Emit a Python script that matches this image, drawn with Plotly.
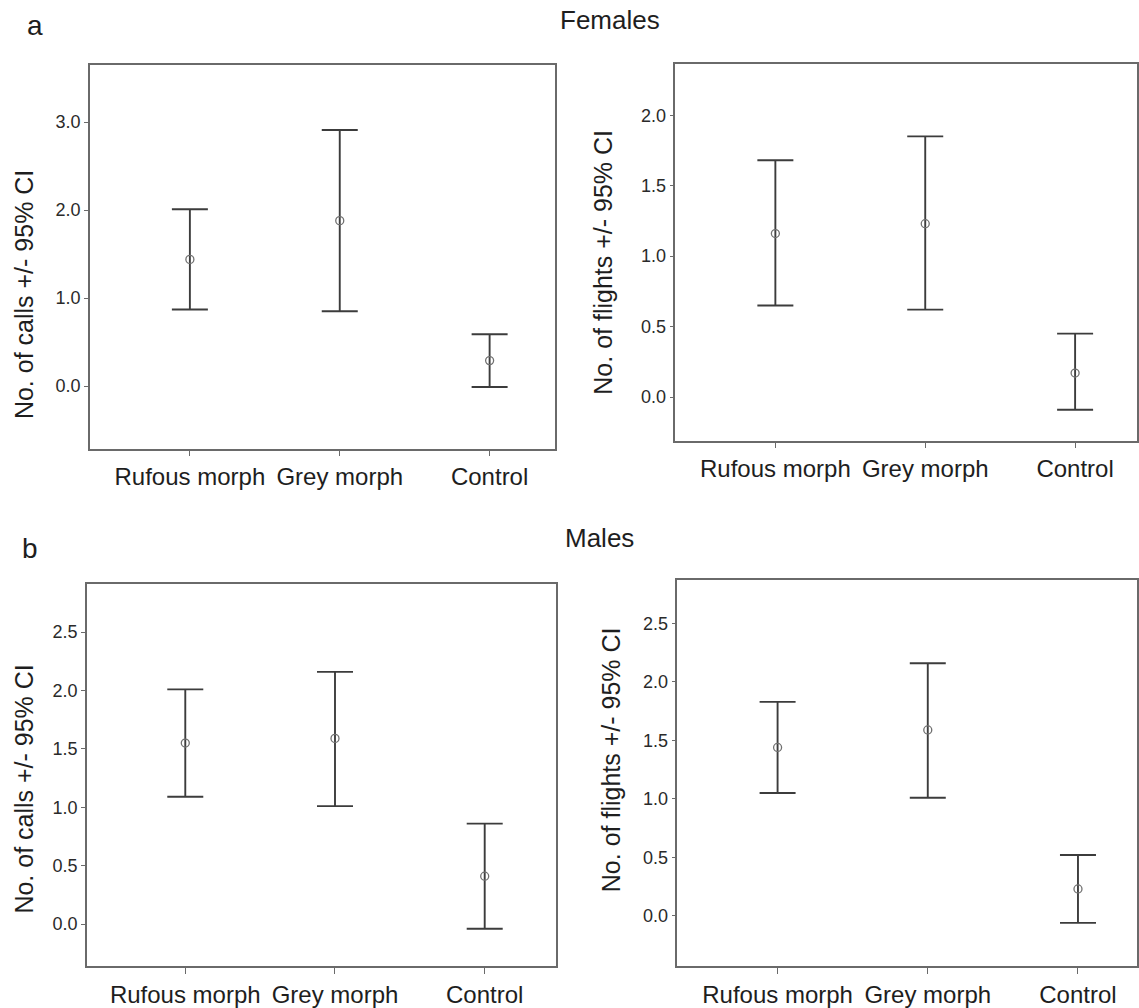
import plotly.graph_objects as go

# ---------------- data ----------------
categories = ["Rufous morph", "Grey morph", "Control"]

# Females - calls
fem_calls_mean = [1.44, 1.88, 0.29]
fem_calls_low = [0.87, 0.85, -0.01]
fem_calls_high = [2.01, 2.91, 0.59]

# Females - flights
fem_flights_mean = [1.16, 1.23, 0.17]
fem_flights_low = [0.65, 0.62, -0.09]
fem_flights_high = [1.68, 1.85, 0.45]

# Males - calls
male_calls_mean = [1.55, 1.59, 0.41]
male_calls_low = [1.09, 1.01, -0.04]
male_calls_high = [2.01, 2.16, 0.86]

# Males - flights
male_flights_mean = [1.44, 1.59, 0.23]
male_flights_low = [1.05, 1.01, -0.06]
male_flights_high = [1.83, 2.16, 0.52]

ticks_fem_calls = [0, 1, 2, 3]
ticks_fem_flights = [0, 0.5, 1, 1.5, 2]
ticks_male_calls = [0, 0.5, 1, 1.5, 2, 2.5]
ticks_male_flights = [0, 0.5, 1, 1.5, 2, 2.5]

calls_title = "No. of calls +/- 95% CI"
flights_title = "No. of flights +/- 95% CI"
group_titles = ["Females", "Males"]
panel_letters = ["a", "b"]

# ---------------- layout helpers ----------------
W, H = 1139, 1008
FONT = "Liberation Sans, Arial, Helvetica, sans-serif"


def px_x(x):
    return x / W


def px_y(y):
    return 1 - y / H


panels = [
    dict(mean=fem_calls_mean, low=fem_calls_low, high=fem_calls_high,
         box=(90, 65, 555, 450), xr=[-0.667, 2.433], yr=[-0.71, 3.65],
         ticks=ticks_fem_calls, title=calls_title, tpos=(24, 295)),
    dict(mean=fem_flights_mean, low=fem_flights_low, high=fem_flights_high,
         box=(676, 64, 1138, 442), xr=[-0.667, 2.413], yr=[-0.31, 2.365],
         ticks=ticks_fem_flights, title=flights_title, tpos=(604, 263)),
    dict(mean=male_calls_mean, low=male_calls_low, high=male_calls_high,
         box=(87, 586, 556, 969), xr=[-0.657, 2.473], yr=[-0.36, 2.91],
         ticks=ticks_male_calls, title=calls_title, tpos=(24, 791)),
    dict(mean=male_flights_mean, low=male_flights_low, high=male_flights_high,
         box=(678, 582, 1138, 969), xr=[-0.667, 2.393], yr=[-0.43, 2.87],
         ticks=ticks_male_flights, title=flights_title, tpos=(611, 762)),
]

fig = go.Figure()
layout = {}
annotations = []

axis_common = dict(
    showline=True, mirror=True, linecolor="#6a6a6a", linewidth=1.5,
    ticks="outside", tickcolor="#6a6a6a", tickwidth=1.2,
    showgrid=False, zeroline=False,
)

for i, p in enumerate(panels, start=1):
    xa = "x" if i == 1 else f"x{i}"
    ya = "y" if i == 1 else f"y{i}"
    plus = [h - m for h, m in zip(p["high"], p["mean"])]
    minus = [m - l for m, l in zip(p["mean"], p["low"])]
    fig.add_trace(go.Scatter(
        x=categories, y=p["mean"], mode="markers",
        xaxis=xa, yaxis=ya, showlegend=False,
        marker=dict(symbol="circle-open", size=8, color="#707070",
                    line=dict(width=1.3, color="#707070")),
        error_y=dict(type="data", symmetric=False, array=plus,
                     arrayminus=minus, color="#3c3c3c",
                     thickness=1.9, width=18),
    ))
    x0, y0, x1, y1 = p["box"]
    xname = "xaxis" if i == 1 else f"xaxis{i}"
    yname = "yaxis" if i == 1 else f"yaxis{i}"
    layout[xname] = dict(
        axis_common, domain=[px_x(x0), px_x(x1)], anchor=ya,
        type="category", categoryorder="array", categoryarray=categories,
        range=p["xr"], ticklen=6,
        tickfont=dict(family=FONT, size=24, color="#1e1e1e"),
    )
    layout[yname] = dict(
        axis_common, domain=[px_y(y1), px_y(y0)], anchor=xa,
        range=p["yr"], tickvals=p["ticks"], tickformat=".1f", ticklen=4,
        tickfont=dict(family=FONT, size=18, color="#2a2a2a"),
    )
    tx, ty = p["tpos"]
    annotations.append(dict(
        text=p["title"], x=px_x(tx), y=px_y(ty), xref="paper", yref="paper",
        showarrow=False, textangle=-90, xanchor="center", yanchor="middle",
        font=dict(family=FONT, size=25, color="#1e1e1e"),
    ))

# group titles and panel letters
for title, (cx, cy) in zip(group_titles, [(611, 20), (600, 540)]):
    annotations.append(dict(
        text=title, x=px_x(cx), y=px_y(cy), xref="paper", yref="paper",
        showarrow=False, xanchor="center", yanchor="middle",
        font=dict(family=FONT, size=26, color="#1e1e1e"),
    ))
for letter, (cx, cy) in zip(panel_letters, [(35, 26), (30, 550)]):
    annotations.append(dict(
        text=letter, x=px_x(cx), y=px_y(cy), xref="paper", yref="paper",
        showarrow=False, xanchor="center", yanchor="middle",
        font=dict(family=FONT, size=28, color="#1e1e1e"),
    ))

fig.update_layout(
    **layout,
    annotations=annotations,
    width=W, height=H,
    margin=dict(l=0, r=0, t=0, b=0),
    paper_bgcolor="white", plot_bgcolor="white",
    font=dict(family=FONT, color="#1e1e1e"),
)

# remove the default 8px page margin so the figure fills the window exactly
fig.write_html(
    "out.html",
    config={"displayModeBar": False},
    post_script="document.body.style.margin='0';document.body.style.overflow='hidden';",
)
